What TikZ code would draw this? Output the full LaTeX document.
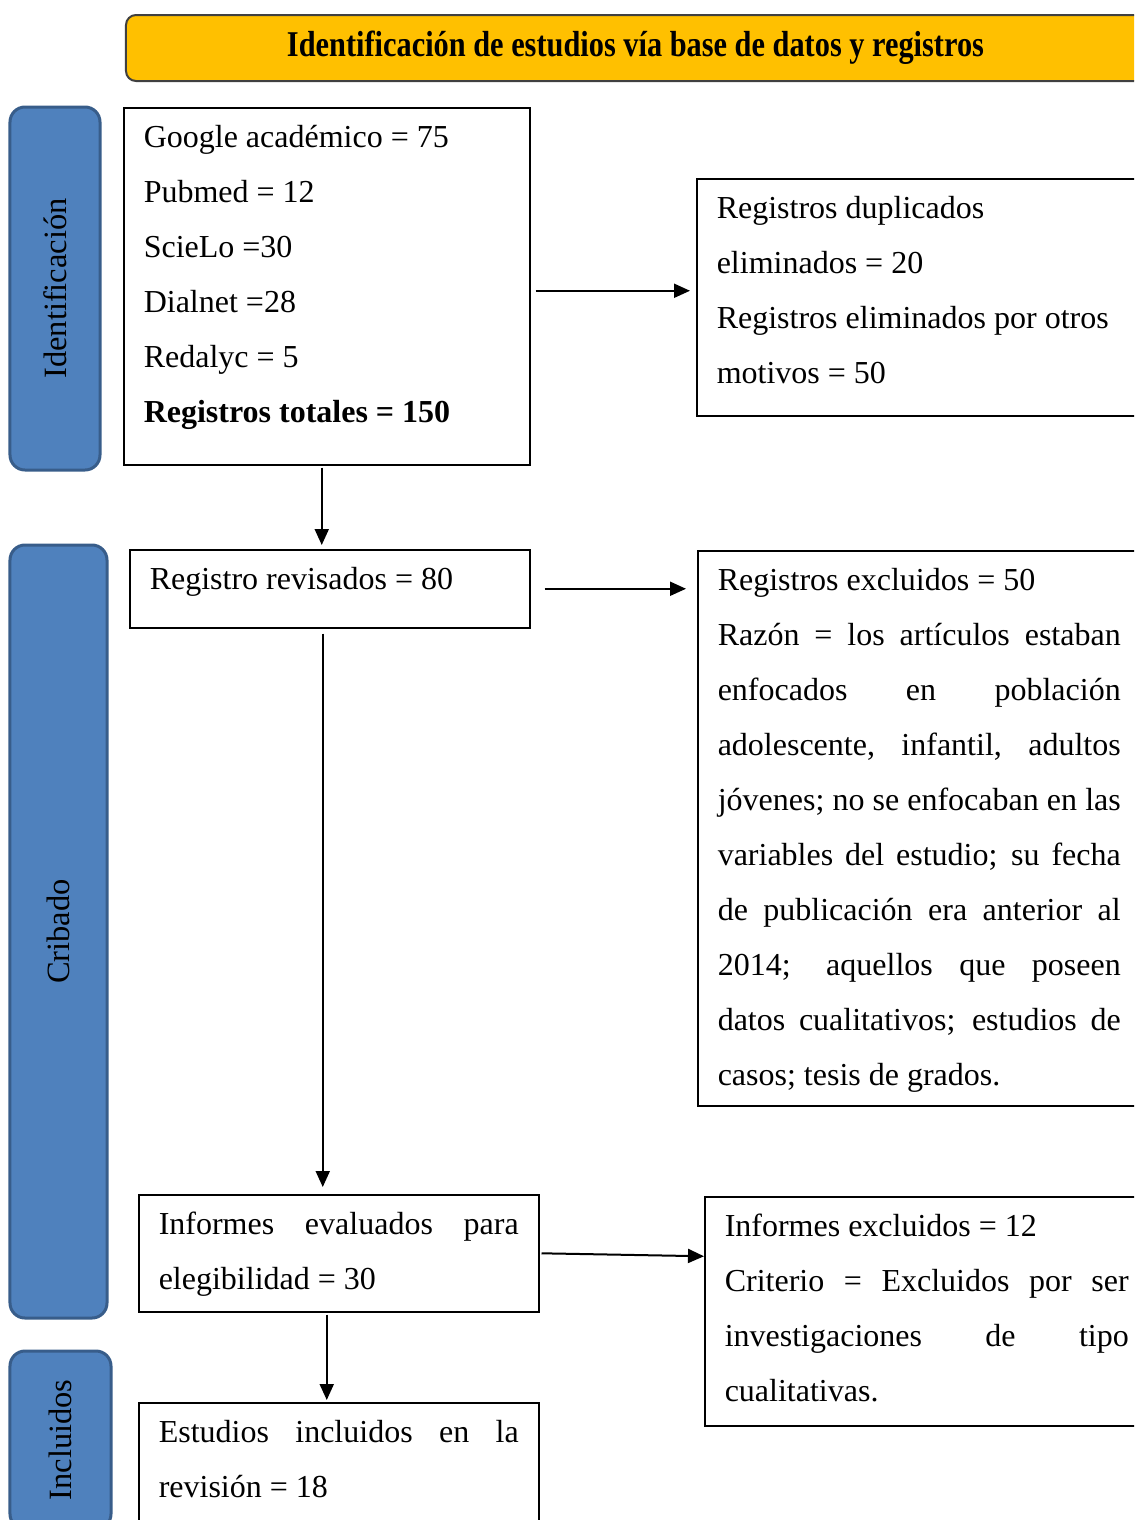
\documentclass[tikz,border=0pt]{standalone}
\usepackage{fontspec}
\setmainfont{Liberation Serif}
\usepackage{graphicx}
\usetikzlibrary{arrows.meta}
\definecolor{amarillo}{HTML}{FFC000}
\definecolor{azulfase}{HTML}{4F81BD}
\definecolor{azulborde}{HTML}{385D8A}
\definecolor{grisborde}{HTML}{404040}
\hyphenpenalty=10000
\exhyphenpenalty=10000
\newcommand{\textocaja}[3]{\parbox[t][#2][t]{#1}{\fontsize{12.8}{22}\selectfont #3}}

\begin{document}
\begin{tikzpicture}[x=0.4pt,y=-0.4pt,
  fase/.style={draw=azulborde,line width=1.2pt,fill=azulfase,rounded corners=6pt,rotate=90,font=\fontsize{13}{15}\selectfont},
  caja/.style={draw,line width=0.6pt,anchor=north west,inner xsep=8pt,inner ysep=7pt},
  flecha/.style={-{Triangle[length=6.4pt,width=5.6pt]},line width=0.8pt}]

\useasboundingbox (0,0) rectangle (1134,1520);
\clip (0,0) rectangle (1134,1520);

\node[draw=grisborde,line width=0.8pt,fill=amarillo,rounded corners=4pt,minimum width=407.6pt,minimum height=26.4pt] (titulo) at (635.5,48)
  {\resizebox{278.8pt}{\height}{\bfseries\fontsize{14.5}{16}\selectfont Identificación de estudios vía base de datos y registros}};

\node[fase,minimum width=145.2pt,minimum height=36pt] (identificacion) at (55,288.5) {Identificación};
\node[fase,minimum width=309.2pt,minimum height=38.8pt] (cribado) at (58.5,931.5) {Cribado};
\node[fase,minimum width=71.2pt,minimum height=40.4pt] (incluidos) at (60.5,1440) {Incluidos};

\node[caja] (bases) at (123,107) {\textocaja{146.4pt}{128.8pt}{Google académico = 75\\
  Pubmed = 12\\
  ScieLo =30\\
  Dialnet =28\\
  Redalyc = 5\\
  \textbf{Registros totales = 150}}};
\node[caja] (duplicados) at (696,178) {\textocaja{161.6pt}{80.8pt}{Registros duplicados\\
  eliminados = 20\\
  Registros eliminados por otros\\
  motivos = 50}};
\node[caja] (revisados) at (129,549) {\textocaja{144pt}{17.2pt}{Registro revisados = 80}};
\node[caja] (excluidos) at (697,550) {\textocaja{161.2pt}{208pt}{Registros excluidos = 50\\
  Razón = los artículos estaban\linebreak
  enfocados en población\linebreak
  adolescente, infantil, adultos\linebreak
  jóvenes; no se enfocaban en las\linebreak
  variables del estudio; su fecha\linebreak
  de publicación era anterior al\linebreak
  2014; aquellos que poseen\linebreak
  datos cualitativos; estudios de\linebreak
  casos; tesis de grados.}};
\node[caja] (evaluados) at (138,1194) {\textocaja{144pt}{32.8pt}{Informes evaluados para\linebreak
  elegibilidad = 30}};
\node[caja] (informes) at (704,1196) {\textocaja{161.6pt}{77.6pt}{Informes excluidos = 12\\
  Criterio = Excluidos por ser\linebreak
  investigaciones de tipo\linebreak
  cualitativas.}};
\node[caja] (estudios) at (138,1402) {\textocaja{144pt}{37.2pt}{Estudios incluidos en la\linebreak
  revisión = 18}};

\draw[flecha,shorten <=0.8pt,shorten >=1.6pt] ([xshift=-2pt]bases.south) -- ([xshift=-2pt]bases.south |- revisados.north);
\draw[flecha,shorten <=2pt,shorten >=2.4pt] ([yshift=-1.8pt]bases.east) -- ([yshift=-1.8pt]bases.east -| duplicados.west);
\draw[flecha,shorten <=5.6pt,shorten >=4.4pt] (revisados.east) -- (revisados.east -| excluidos.west);
\draw[flecha,shorten <=2pt,shorten >=2.8pt] ([xshift=-2.8pt]revisados.south) -- ([xshift=-2.8pt]revisados.south |- evaluados.north);
\draw[flecha,shorten <=0.8pt] (evaluados.east) -- ([yshift=-1.2pt]evaluados.east -| informes.west);
\draw[flecha,shorten <=0.8pt,shorten >=0.8pt] ([xshift=-4.8pt]evaluados.south) -- ([xshift=-4.8pt]estudios.north);
\end{tikzpicture}
\end{document}
